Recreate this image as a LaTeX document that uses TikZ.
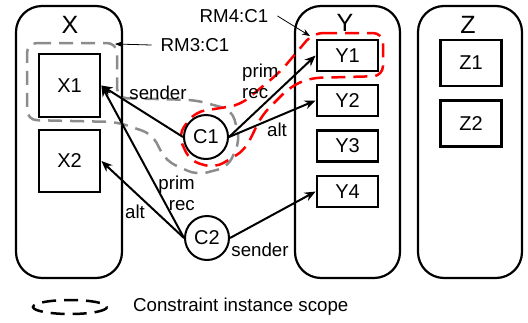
\documentclass[tikz,border=0pt]{standalone}
\usepackage{fontspec}
\setmainfont{Liberation Sans}
\usetikzlibrary{arrows.meta}
\tikzstyle{arrow} = [line width=2pt,->,>={Stealth[length=11pt,width=9pt]}]
\tikzstyle{thinarrow} = [line width=0.8pt,->,>={Stealth[length=8pt,width=6pt]}]
\tikzstyle{container} = [draw, line width=2.2pt, rounded corners=26pt, inner sep=0pt]
\tikzstyle{elem} = [draw, line width=2.8pt, inner sep=0pt, minimum width=61pt, font=\fontsize{20}{24}\selectfont]
\tikzstyle{cons} = [draw, circle, line width=2pt, minimum size=44pt, inner sep=0pt, font=\fontsize{20}{24}\selectfont]
\tikzstyle{lbl} = [inner sep=0pt, font=\fontsize{18.7}{21}\selectfont]
\tikzstyle{rmscope} = [line width=2.5pt, dash pattern=on 14pt off 8pt, rounded corners=10pt]
\definecolor{scopegray}{RGB}{140,140,140}

\begin{document}
\begin{tikzpicture}[x=1pt, y=-1pt]
        \useasboundingbox (0,0) rectangle (528,322);

        % Containers
        \node[container, minimum width=106pt, minimum height=272pt] (contX) at (69,142) {};
        \node[container, minimum width=105pt, minimum height=272pt] (contY) at (347.5,142) {};
        \node[container, minimum width=104pt, minimum height=272pt] (contZ) at (470,142) {};
        \node at (70,25) [font=\fontsize{25}{28}\selectfont, inner sep=0pt] (labX) {X};
        \node at (345,23) [font=\fontsize{25}{28}\selectfont, inner sep=0pt] (labY) {Y};
        \node at (468,25) [font=\fontsize{25}{28}\selectfont, inner sep=0pt] (labZ) {Z};

        % Elements of X
        \node at (69.5,85.5) [elem, minimum height=63pt] (X1) {X1};
        \node at (69.5,161) [elem, minimum height=62pt] (X2) {X2};

        % Elements of Y
        \node at (347.5,55.5) [elem, minimum height=31pt] (Y1) {Y1};
        \node at (347.5,100.5) [elem, minimum height=31pt] (Y2) {Y2};
        \node at (347.5,146) [elem, minimum height=31pt] (Y3) {Y3};
        \node at (347.5,191.5) [elem, minimum height=31pt] (Y4) {Y4};

        % Elements of Z
        \node at (471,63) [elem, minimum height=46pt] (Z1) {Z1};
        \node at (471,123.5) [elem, minimum height=46pt] (Z2) {Z2};

        % Constraint instance scopes
        \draw[rmscope, scopegray] (27,43) -- (117,43) -- (117,98) -- (195,100) -- (232,110)
            -- (240,140) -- (228,167) -- (197,175) -- (166,161) -- (152,134) -- (117,122)
            -- (27,120) -- cycle;
        \draw[rmscope, red] (313,33) -- (383,33) -- (383,76) -- (310,78) -- (290,87)
            -- (262,115) -- (245,150) -- (215,168) -- (190,161) -- (178,135) -- (195,112)
            -- (240,105) -- (280,72) -- cycle;

        % Constraints
        \node at (206,137) [cons] (C1) {C1};
        \node at (207,238) [cons] (C2) {C2};

        % C1 connections
        \draw[arrow] (C1.west) -- (X1.east);
        \draw[arrow] (C1.east) -- (Y1.west);
        \draw[arrow] (C1.east) -- (Y2.west);
        \node at (158,93) [lbl] (sendC1) {sender};
        \node at (242,81) [lbl, anchor=west, align=left] (primC1) {prim\\rec};
        \node at (277,130) [lbl] (altC1) {alt};

        % C2 connections
        \draw[arrow] (C2.west) -- (X1.east);
        \draw[arrow] (C2.west) -- (X2.east);
        \draw[arrow] (C2.east) -- (Y4.west);
        \node at (195,193) [lbl, anchor=east, align=right] (primC2) {prim\\rec};
        \node at (135,212) [lbl] (altC2) {alt};
        \node at (260,250) [lbl] (sendC2) {sender};

        % Scope names
        \node at (195,45) [lbl] (rm3) {RM3:C1};
        \node at (234,16) [lbl] (rm4) {RM4:C1};
        \coordinate (rm3tip) at (115,44);
        \coordinate (rm4tip) at (310,36);
        \draw[thinarrow] ([xshift=-9pt]rm3.west) -- (rm3tip);
        \draw[thinarrow] ([xshift=9pt]rm4.east) -- (rm4tip);

        % Legend
        \draw[rmscope] (70,307) ellipse [x radius=37, y radius=7];
        \node at (133,307) [lbl, anchor=west] (legend) {Constraint instance scope};

\end{tikzpicture}
\end{document}
